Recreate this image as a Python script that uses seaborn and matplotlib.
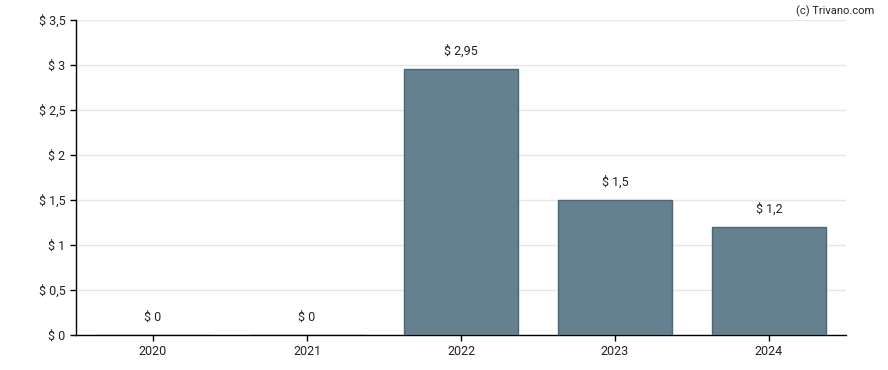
import matplotlib
matplotlib.use("Agg")
import matplotlib.pyplot as plt
import pandas as pd
import seaborn as sns
from matplotlib.ticker import FuncFormatter, MultipleLocator

years = ["2020", "2021", "2022", "2023", "2024"]
values = [0, 0, 2.95, 1.5, 1.2]
value_labels = ["$ 0", "$ 0", "$ 2,95", "$ 1,5", "$ 1,2"]

BAR_COLOR = "#65808f"
EDGE_COLOR = "#4b6678"


def euro_fmt(v, _pos):
    s = f"{v:g}".replace(".", ",")
    return f"$ {s}"


sns.set_style("white")
plt.rcParams["font.family"] = ["Roboto", "DejaVu Sans"]

df = pd.DataFrame({"year": years, "value": values})

fig = plt.figure(figsize=(8.88, 3.7), dpi=100)
ax = fig.add_axes([0.0856, 0.0946, 0.8671, 0.8514])

sns.barplot(data=df, x="year", y="value", color=BAR_COLOR, width=0.74,
            saturation=1, edgecolor=EDGE_COLOR, linewidth=1, ax=ax, zorder=3)

ax.set_xlim(-0.5, 4.5)
ax.set_ylim(0, 3.5)
ax.yaxis.set_major_locator(MultipleLocator(0.5))
ax.yaxis.set_major_formatter(FuncFormatter(euro_fmt))
ax.grid(axis="y", color="#e6e6e6", linewidth=1, zorder=0)
ax.set_axisbelow(True)

for side in ["top", "right"]:
    ax.spines[side].set_visible(False)
for side in ["left", "bottom"]:
    ax.spines[side].set_color("black")
    ax.spines[side].set_linewidth(1)

ax.tick_params(axis="both", which="major", length=4, width=1, color="black",
               labelsize=9, labelcolor="#222222", left=True, bottom=True)
ax.set_xlabel("")
ax.set_ylabel("")

for i, (v, lab) in enumerate(zip(values, value_labels)):
    ax.annotate(lab, xy=(i, v), xytext=(0, 13), textcoords="offset points",
                ha="center", va="center", fontsize=9, color="#222222")

fig.text(0.985, 0.985, "(c) Trivano.com", ha="right", va="top",
         fontsize=8, color="#222222")

fig.savefig("out.png", dpi=100)
